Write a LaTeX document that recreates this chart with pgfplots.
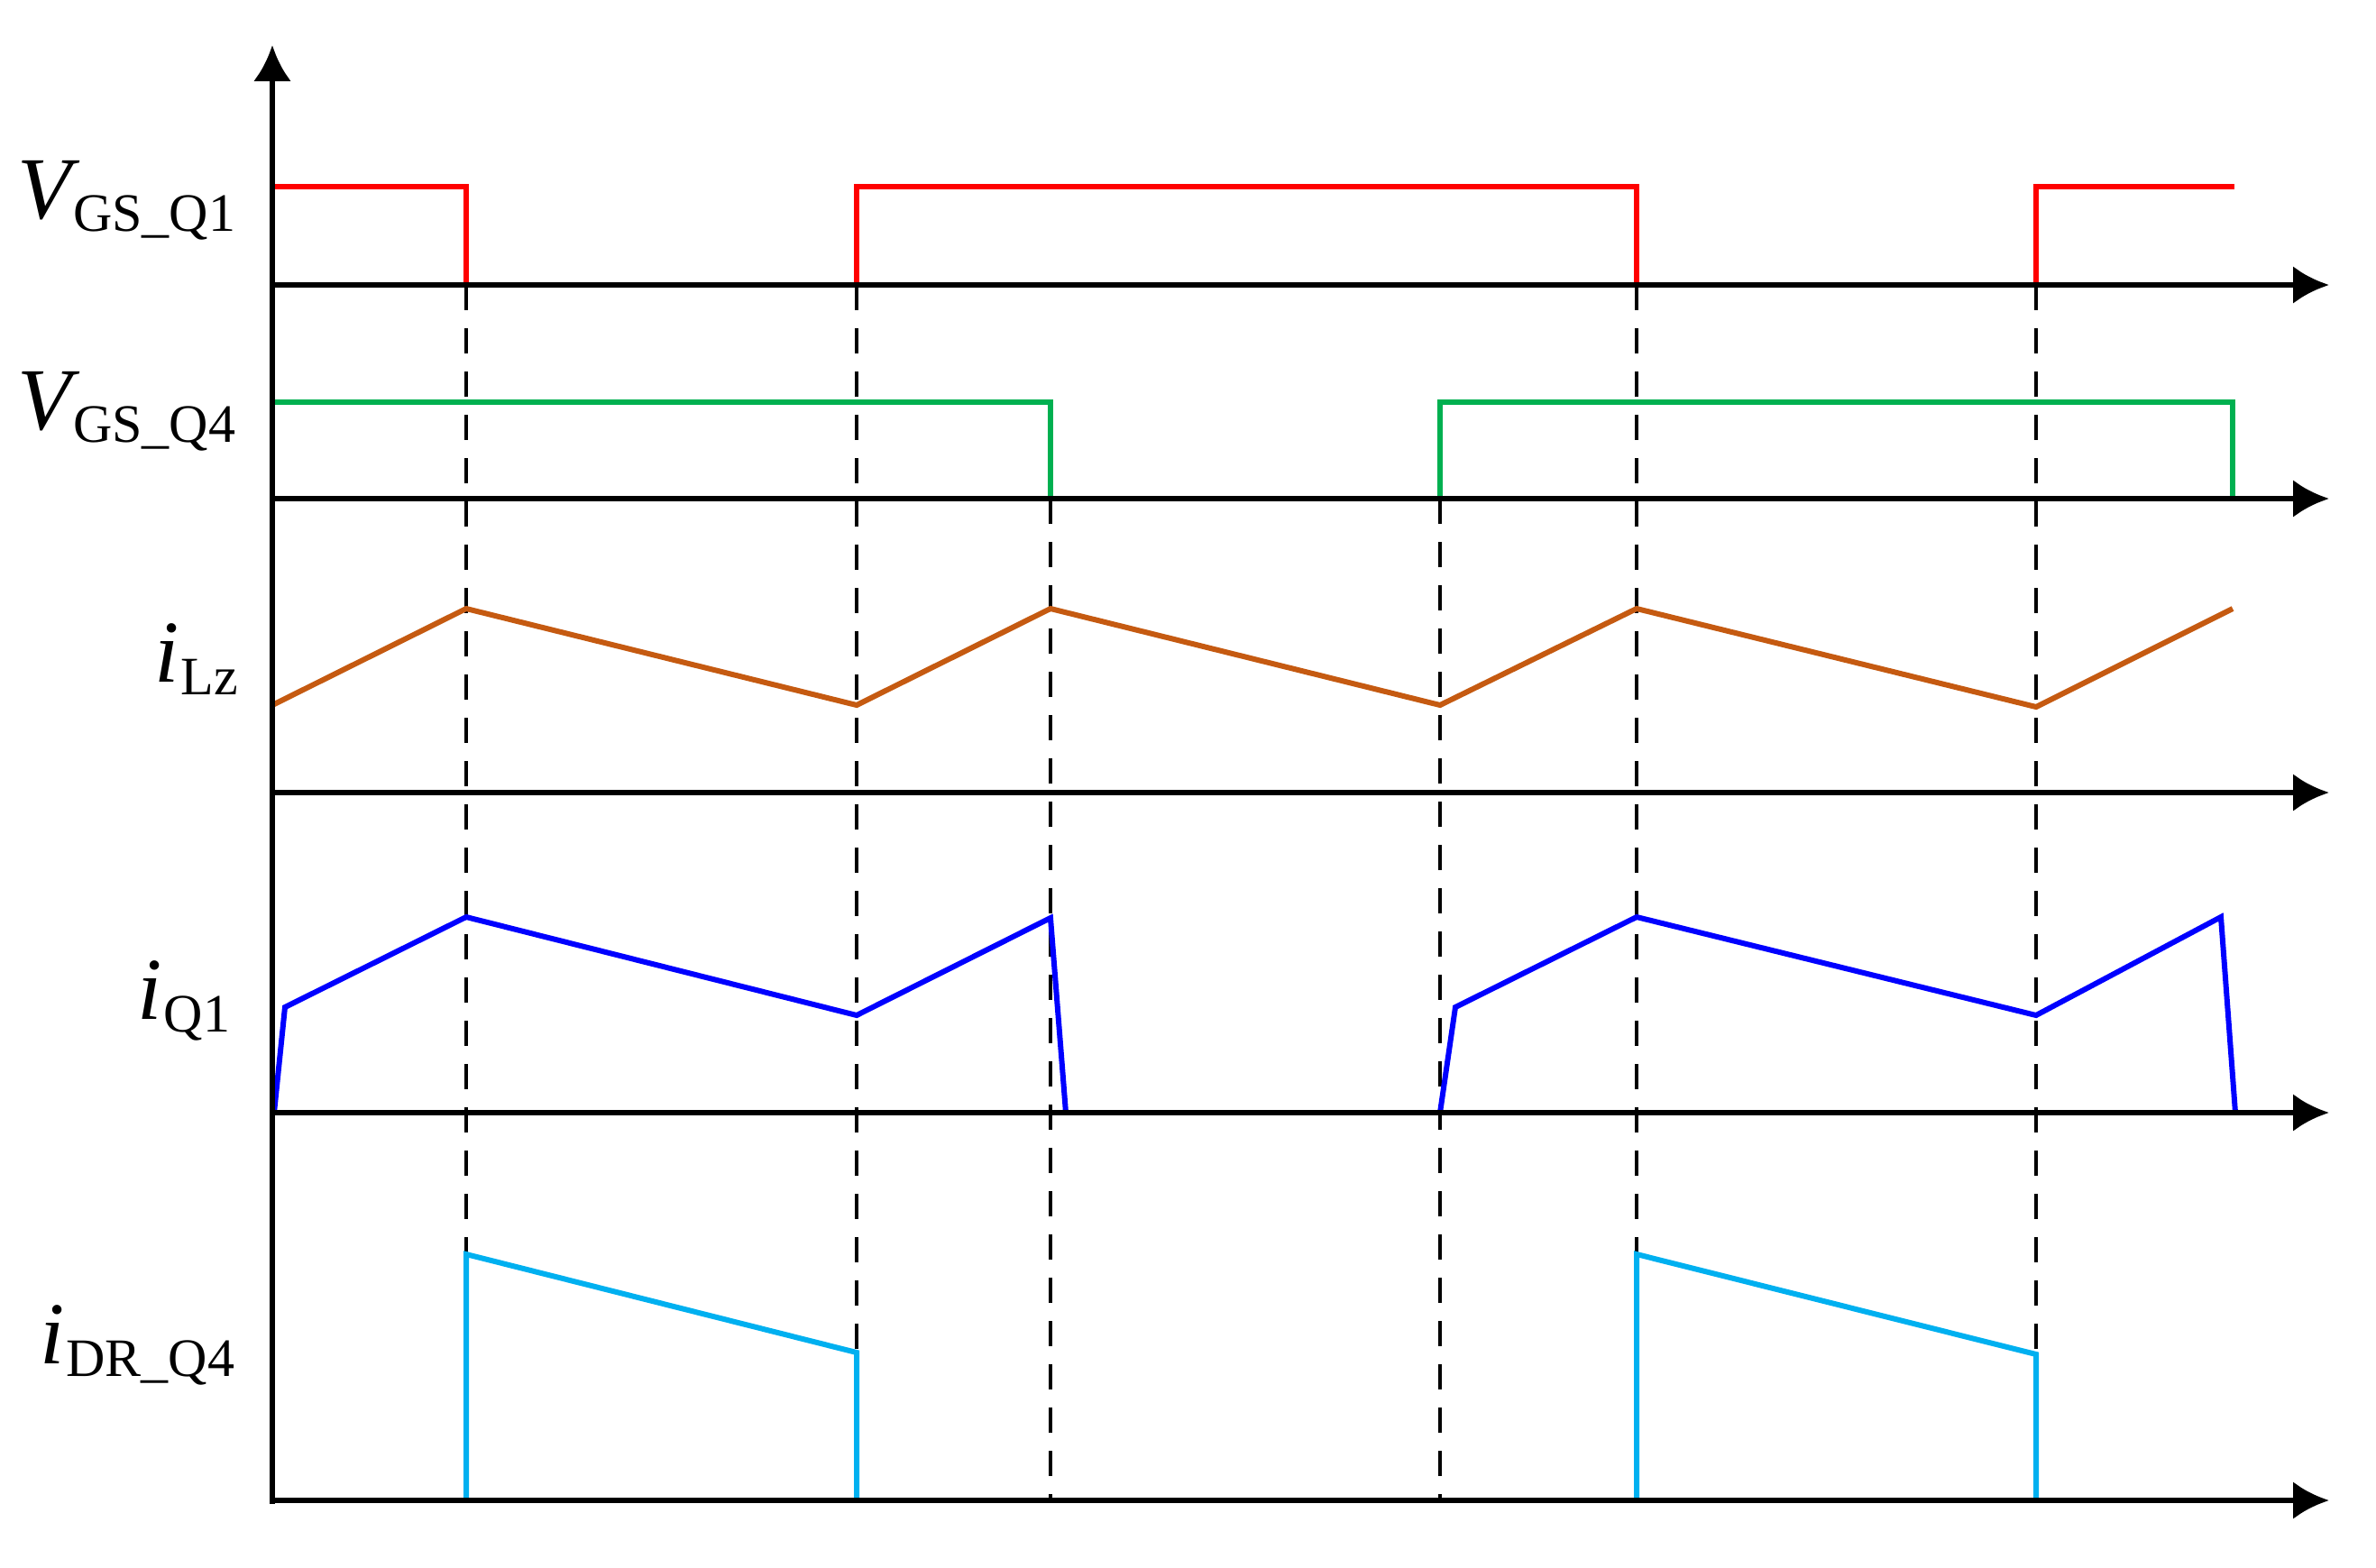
\documentclass[border=0pt]{standalone}
\usepackage{pgfplots}
\pgfplotsset{compat=1.18}
\usepackage{fontspec}
\setmainfont{Liberation Serif}
\usetikzlibrary{arrows.meta}
\definecolor{cRed}{RGB}{255,0,0}
\definecolor{cGreen}{RGB}{0,176,80}
\definecolor{cOrange}{RGB}{197,90,17}
\definecolor{cBlue}{RGB}{0,0,255}
\definecolor{cCyan}{RGB}{0,176,240}
\newcommand{\lbl}[3]{{\fontsize{24.5}{27}\selectfont\textit{#1}}\kern#3\raisebox{-3.6pt}{\fontsize{15}{16}\selectfont #2}}
\begin{document}
\begin{tikzpicture}
\begin{axis}[
  scale only axis, width=658.75pt, height=434.5pt,
  xmin=0, xmax=2635, ymin=0, ymax=1738, y dir=reverse,
  hide axis, clip=false]
% invisible frame for bounding box
\addplot[draw=none] coordinates {(0,0) (2635,1738)};
% dashed guide lines
\addplot[black, line width=1.1pt, dash pattern=on 7pt off 5pt] coordinates {(517,316) (517,1664)};
\addplot[black, line width=1.1pt, dash pattern=on 7pt off 5pt] coordinates {(950,316) (950,1664)};
\addplot[black, line width=1.1pt, dash pattern=on 7pt off 5pt] coordinates {(1165,553) (1165,1664)};
\addplot[black, line width=1.1pt, dash pattern=on 7pt off 5pt] coordinates {(1597,553) (1597,1664)};
\addplot[black, line width=1.1pt, dash pattern=on 7pt off 5pt] coordinates {(1815,316) (1815,1664)};
\addplot[black, line width=1.1pt, dash pattern=on 7pt off 5pt] coordinates {(2258,316) (2258,1664)};
% V_GS_Q1
\addplot[cRed, line width=1.5pt] coordinates {(302,207) (517,207) (517,316)};
\addplot[cRed, line width=1.5pt] coordinates {(950,316) (950,207) (1815,207) (1815,316)};
\addplot[cRed, line width=1.5pt] coordinates {(2258,316) (2258,207) (2478,207)};
% V_GS_Q4
\addplot[cGreen, line width=1.5pt] coordinates {(302,446) (1165,446) (1165,553)};
\addplot[cGreen, line width=1.5pt] coordinates {(1597,553) (1597,446) (2476,446) (2476,553)};
% i_Lz
\addplot[cOrange, line width=1.5pt] coordinates {(302,782) (517,675) (950,782) (1165,675) (1597,782) (1815,675) (2258,784) (2476,675)};
% i_Q1
\addplot[cBlue, line width=1.5pt] coordinates {(304,1234) (316,1117) (517,1017) (950,1126) (1165,1018) (1182,1234)};
\addplot[cBlue, line width=1.5pt] coordinates {(1597,1234) (1614,1117) (1815,1017) (2258,1126) (2463,1017) (2479,1234)};
% i_DR_Q4
\addplot[cCyan, line width=1.5pt] coordinates {(517,1664) (517,1391) (950,1500) (950,1664)};
\addplot[cCyan, line width=1.5pt] coordinates {(1815,1664) (1815,1391) (2258,1502) (2258,1664)};
% axes
\addplot[black, line width=1.6pt, -{Latex[length=10pt,width=10.5pt]}] coordinates {(302,1668) (302,50)};
\addplot[black, line width=1.6pt, -{Latex[length=10pt,width=10.5pt]}] coordinates {(300,316) (2583,316)};
\addplot[black, line width=1.6pt, -{Latex[length=10pt,width=10.5pt]}] coordinates {(300,553) (2583,553)};
\addplot[black, line width=1.6pt, -{Latex[length=10pt,width=10.5pt]}] coordinates {(300,879) (2583,879)};
\addplot[black, line width=1.6pt, -{Latex[length=10pt,width=10.5pt]}] coordinates {(300,1234) (2583,1234)};
\addplot[black, line width=1.6pt, -{Latex[length=10pt,width=10.5pt]}] coordinates {(300,1664) (2583,1664)};
% labels
\node[anchor=base east, inner sep=0pt] at (axis cs:262,242) {\lbl{V}{GS\_Q1}{-2pt}};
\node[anchor=base east, inner sep=0pt] at (axis cs:262,476) {\lbl{V}{GS\_Q4}{-2pt}};
\node[anchor=base east, inner sep=0pt] at (axis cs:265,756) {\lbl{i}{Lz}{0.5pt}};
\node[anchor=base east, inner sep=0pt] at (axis cs:256,1130) {\lbl{i}{Q1}{0.5pt}};
\node[anchor=base east, inner sep=0pt] at (axis cs:261,1512) {\lbl{i}{DR\_Q4}{0.5pt}};
\end{axis}
\end{tikzpicture}
\end{document}
